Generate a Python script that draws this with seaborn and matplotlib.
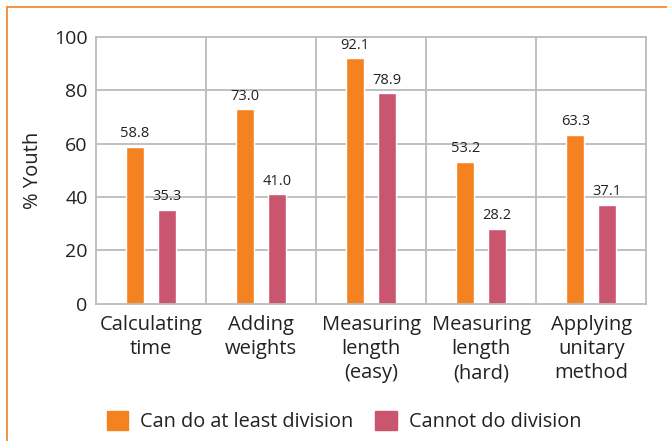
# Youth arithmetic skills by division ability - grouped bar chart

import pandas as pd
import matplotlib.pyplot as plt
import seaborn as sns
from matplotlib.lines import Line2D

# Chart data
categories = ["Calculating\ntime", "Adding\nweights", "Measuring\nlength\n(easy)",
              "Measuring\nlength\n(hard)", "Applying\nunitary\nmethod"]
can_divide = [58.8, 73.0, 92.1, 53.2, 63.3]
cannot_divide = [35.3, 41.0, 78.9, 28.2, 37.1]
series_names = ["Can do at least division", "Cannot do division"]

data = pd.DataFrame({
    "task": categories * 2,
    "pct": can_divide + cannot_divide,
    "group": [series_names[0]] * 5 + [series_names[1]] * 5,
})

sns.set_style("white")
plt.rcParams['font.family'] = ['Open Sans', 'DejaVu Sans']

fig = plt.figure(figsize=(6.67, 4.41), dpi=100)
ax = fig.add_axes([0.144, 0.311, 0.825, 0.605])

palette = {series_names[0]: "#F58220", series_names[1]: "#C9556F"}
sns.barplot(data=data, x="task", y="pct", hue="group", palette=palette,
            width=0.58, gap=0.43, ax=ax, legend=False, saturation=1)

# value labels
for cont in ax.containers:
    ax.bar_label(cont, fmt="%.1f", padding=4, fontsize=10.5, color="#222222")

ax.set_ylim(0, 100)
ax.set_xlim(-0.5, 4.5)
ax.set_yticks([0, 20, 40, 60, 80, 100])
ax.set_ylabel("% Youth", fontsize=14.5, color="#222222", labelpad=8)
ax.set_xlabel("")
ax.tick_params(axis="y", labelsize=14, colors="#222222", length=0, pad=6)
ax.tick_params(axis="x", labelsize=14.5, colors="#222222", length=0, pad=8)
for lbl in ax.get_xticklabels():
    lbl.set_linespacing(1.27)

# gridlines: horizontal at ticks, vertical between categories
grid_col = "#BBBBBB"
for yv in [20, 40, 60, 80]:
    ax.axhline(yv, color=grid_col, lw=1.3, zorder=0)
for xv in [0.5, 1.5, 2.5, 3.5]:
    ax.axvline(xv, color=grid_col, lw=1.3, zorder=0)
for s in ax.spines.values():
    s.set_color(grid_col)
    s.set_linewidth(1.3)

# legend
handles = [plt.Rectangle((0, 0), 1, 1, color=palette[n]) for n in series_names]
fig.legend(handles, series_names, loc="lower center", bbox_to_anchor=(0.516, -0.02),
           ncol=2, frameon=False, fontsize=14.3, handlelength=1.1, handleheight=1.1,
           columnspacing=1.1, handletextpad=0.6, labelcolor="#222222")

# orange frame (top and left edges)
fig.add_artist(Line2D([0.0105, 1.0], [0.984, 0.984], color="#F58220", lw=1.2,
                      transform=fig.transFigure))
fig.add_artist(Line2D([0.0105, 0.0105], [0.0, 0.984], color="#F58220", lw=1.2,
                      transform=fig.transFigure))

plt.savefig("out.png", dpi=100)
